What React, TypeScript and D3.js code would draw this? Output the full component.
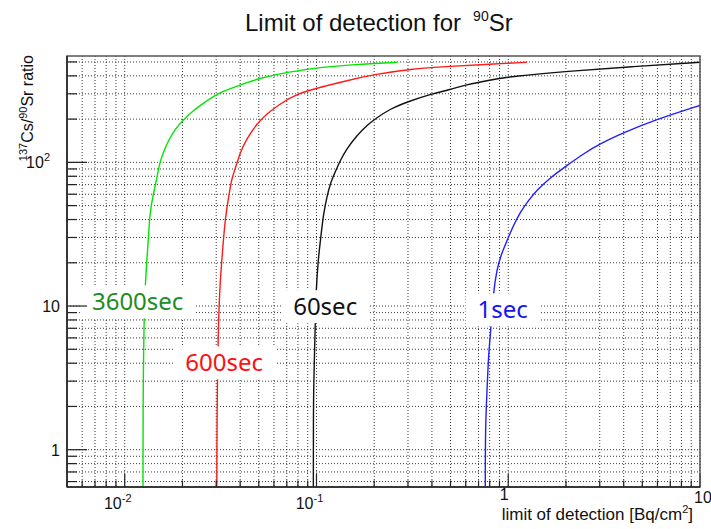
import * as d3 from "d3";

const WIDTH = 711;
const HEIGHT = 529;
const margin = { top: 56, right: 11, bottom: 42, left: 67 };

// axis ranges
const xDomain: [number, number] = [0.005, 10];
const yDomain: [number, number] = [0.55, 550];

const xMajor = [0.01, 0.1, 1, 10];
const xMajorLabels = [["10", "-2"], ["10", "-1"], ["1", ""], ["10", ""]];
const yMajor = [1, 10, 100];
const yMajorLabels = [["1", ""], ["10", ""], ["10", "2"]];

// [limit of detection, ratio]
const curve3600 = [
  [0.01245, 0.55], [0.01247, 1.5], [0.01248, 2.6], [0.0126, 8], [0.0128, 14], [0.01304, 20.9],
  [0.0133, 30.3], [0.01356, 46], [0.01412, 60.6], [0.0147, 77], [0.01517, 98],
  [0.01592, 118], [0.0169, 142], [0.01832, 171], [0.02024, 198], [0.02283, 230],
  [0.02573, 258], [0.03022, 300], [0.03689, 333], [0.05084, 387], [0.07009, 424],
  [0.1045, 459], [0.156, 480], [0.263, 497],
];
const curve600 = [
  [0.0302, 0.55], [0.0303, 1.5], [0.0304, 2.6], [0.0308, 8], [0.0315, 15.2], [0.0321, 20.9],
  [0.0334, 41.7], [0.0355, 67], [0.0362, 77], [0.03766, 90], [0.04, 118],
  [0.04335, 146], [0.04888, 186], [0.05512, 218], [0.06465, 256], [0.079, 300],
  [0.1045, 333], [0.1441, 371], [0.1983, 408], [0.308, 447], [0.5, 466],
  [0.8, 483], [1.25, 497],
];
const curve60 = [
  [0.0963, 0.55], [0.0964, 1.5], [0.0965, 2.6], [0.0985, 7.2], [0.0996, 13.3], [0.1024, 22],
  [0.1054, 30.3], [0.1088, 44], [0.1133, 57.4], [0.1179, 71], [0.1252, 85.6],
  [0.1329, 103], [0.1441, 124.5], [0.1624, 154], [0.1832, 181], [0.2025, 201],
  [0.2424, 236], [0.3, 265], [0.4, 300], [0.498, 321], [0.597, 346],
  [0.806, 375], [1.024, 395], [2.02, 431], [4.5, 464], [10, 497],
];
const curve1 = [
  [0.759, 0.55], [0.76, 1.45], [0.774, 2.47], [0.79, 4.69], [0.806, 6.12],
  [0.838, 12.9], [0.873, 17.8], [0.908, 22], [1.004, 30.3], [1.066, 36.5],
  [1.155, 45], [1.276, 54.5], [1.41, 64], [1.656, 78.3], [2.02, 95],
  [2.47, 115], [3.02, 135], [4.0, 161], [5.73, 196], [10, 249],
];

const seriesData = [curve3600, curve600, curve60, curve1];
const seriesColors = ["#00e600", "#ff1a1a", "#111111", "#2020ff"];

const labelTexts = ["3600sec", "600sec", "60sec", "1sec"];
const labelColors = ["#1e8c1e", "#ff1010", "#111111", "#1515f0"];
// label centres in data units
const labelX = [0.01168, 0.033, 0.111, 0.936];
const labelY = [10.7, 4.02, 9.9, 9.4];

const labelFont = "24px 'Noto Sans'";

function measure(text: string) {
  const ctx = document.createElement("canvas").getContext("2d");
  if (!ctx) return text.length * 13;
  ctx.font = labelFont;
  return ctx.measureText(text).width;
}

export default function App() {
  const x = d3
    .scaleLog()
    .domain(xDomain)
    .range([margin.left, WIDTH - margin.right]);
  const y = d3
    .scaleLog()
    .domain(yDomain)
    .range([HEIGHT - margin.bottom, margin.top]);

  const left = margin.left;
  const right = WIDTH - margin.right;
  const top = margin.top;
  const bottom = HEIGHT - margin.bottom;

  const xTicks = x.ticks();
  const yTicks = y.ticks();

  // B-spline smooths out small reading errors in the points
  const line = d3
    .line<number[]>()
    .x((d) => x(d[0]))
    .y((d) => y(d[1]))
    .curve(d3.curveBasis);

  const font = "'Liberation Sans', Arial, sans-serif";

  return (
    <svg
      width={WIDTH}
      height={HEIGHT}
      style={{ position: "absolute", left: 0, top: 0, background: "#fff" }}
    >
      <defs>
        <clipPath id="plot-clip">
          <rect x={left} y={top} width={right - left} height={bottom - top} />
        </clipPath>
      </defs>

      {/* title */}
      <text x={245} y={31} fontFamily={font} fontSize={24} fill="#111">
        Limit of detection for
        <tspan dx={12} dy={-10} fontSize={14}>90</tspan>
        <tspan dy={10} fontSize={24}>Sr</tspan>
      </text>

      {/* grid */}
      <g stroke="#222" strokeWidth={0.9} strokeDasharray="1 2">
        {xTicks.map((t, i) => (
          <line key={"gx" + i} x1={x(t)} x2={x(t)} y1={top} y2={bottom} />
        ))}
        {yTicks.map((t, i) => (
          <line key={"gy" + i} x1={left} x2={right} y1={y(t)} y2={y(t)} />
        ))}
      </g>

      {/* curves */}
      <g clipPath="url(#plot-clip)" fill="none" strokeWidth={1.4}>
        {seriesData.map((s, i) => (
          <path key={i} d={line(s) || ""} stroke={seriesColors[i]} />
        ))}
      </g>

      {/* labels with white boxes */}
      {labelTexts.map((t, i) => {
        const w = measure(t);
        const cx = x(labelX[i]);
        const cy = y(labelY[i]);
        return (
          <g key={t}>
            <rect
              x={cx - w / 2 - 12}
              y={cy - 16.5}
              width={w + 24}
              height={33}
              fill="#fff"
            />
            <text
              x={cx}
              y={cy + 8.5}
              textAnchor="middle"
              fontFamily="'Noto Sans', sans-serif"
              fontSize={24}
              fill={labelColors[i]}
            >
              {t}
            </text>
          </g>
        );
      })}

      {/* ticks */}
      <g stroke="#222" strokeWidth={1.2}>
        {yTicks.map((t, i) => {
          const major = yMajor.some((m) => Math.abs(m - t) < 1e-9);
          return (
            <line
              key={"ty" + i}
              x1={left}
              x2={left + (major ? 20 : 10)}
              y1={y(t)}
              y2={y(t)}
            />
          );
        })}
        {xTicks.map((t, i) => {
          const major = xMajor.some((m) => Math.abs(m - t) / m < 1e-9);
          return (
            <line
              key={"tx" + i}
              x1={x(t)}
              x2={x(t)}
              y1={bottom}
              y2={bottom - (major ? 13 : 6.5)}
            />
          );
        })}
      </g>

      {/* frame */}
      <rect
        x={left}
        y={top}
        width={right - left}
        height={bottom - top}
        fill="none"
        stroke="#555"
        strokeWidth={1.5}
      />
      <line x1={left} x2={left} y1={top} y2={bottom} stroke="#222" strokeWidth={1.5} />
      <line x1={left} x2={right} y1={bottom} y2={bottom} stroke="#222" strokeWidth={1.5} />

      {/* y tick labels */}
      {yMajor.map((v, i) => (
        <text
          key={"ly" + i}
          x={yMajorLabels[i][1] ? 50 : 60}
          y={y(v) + 6}
          textAnchor="end"
          fontFamily={font}
          fontSize={16}
          fill="#111"
        >
          {yMajorLabels[i][0]}
          {yMajorLabels[i][1] && (
            <tspan dy={-7} fontSize={11}>
              {yMajorLabels[i][1]}
            </tspan>
          )}
        </text>
      ))}

      {/* x tick labels */}
      {xMajor.map((v, i) => (
        <text
          key={"lx" + i}
          x={x(v) + (xMajorLabels[i][1] ? -7 : i === 3 ? 3 : -4)}
          y={i === 3 ? 503 : i === 2 ? 500 : 509}
          textAnchor="middle"
          fontFamily={font}
          fontSize={16}
          fill="#111"
        >
          {xMajorLabels[i][0]}
          {xMajorLabels[i][1] && (
            <tspan dy={-7} fontSize={11}>
              {xMajorLabels[i][1]}
            </tspan>
          )}
        </text>
      ))}

      {/* axis titles */}
      <text
        x={693}
        y={520}
        textAnchor="end"
        fontFamily={font}
        fontSize={17}
        fill="#111"
      >
        limit of detection [Bq/cm
        <tspan dy={-7} fontSize={11}>2</tspan>
        <tspan dy={7}>]</tspan>
      </text>
      <text
        transform="translate(33,55) rotate(-90)"
        textAnchor="end"
        fontFamily={font}
        fontSize={16}
        fill="#111"
      >
        <tspan dy={-6} fontSize={11}>137</tspan>
        <tspan dy={6}>Cs/</tspan>
        <tspan dy={-6} fontSize={11}>90</tspan>
        <tspan dy={6}>Sr ratio</tspan>
      </text>
    </svg>
  );
}
